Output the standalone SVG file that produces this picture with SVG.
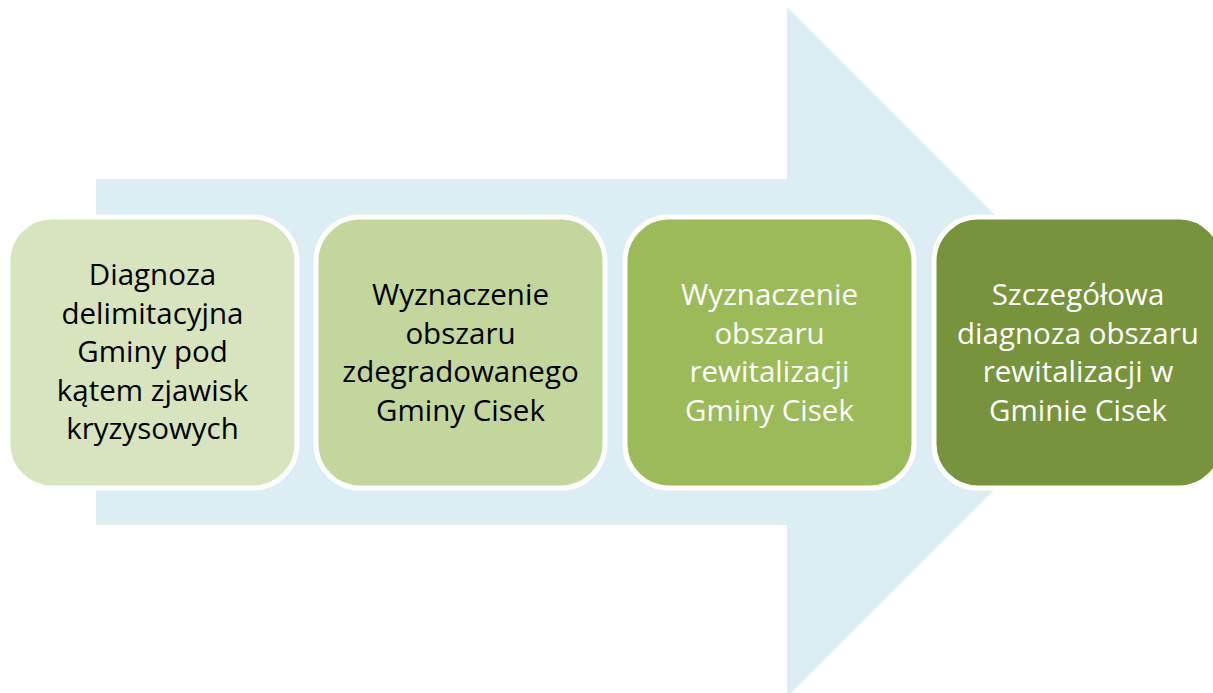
<svg xmlns="http://www.w3.org/2000/svg" width="1213" height="693" viewBox="0 0 1213 693">
<style>
.box{stroke:#ffffff;stroke-width:5}
.t{font-family:"Open Sans","Noto Sans","Liberation Sans",sans-serif;font-size:29.5px;text-anchor:middle}
.dark{fill:#000000}
.light{fill:#ffffff}
</style>
<rect width="1213" height="693" fill="#ffffff"/>
<g id="arrow">
<polygon points="96,179 787,179 787,7 1132,352 787,697 787,525 96,525" fill="#DBEEF4"/>
</g>
<g id="node1">
<rect class="box" x="8" y="217" width="289" height="271" rx="44" fill="#D7E4BD"/>
<text class="t dark" x="152.5" y="285">Diagnoza</text>
<text class="t dark" x="152.5" y="323.5">delimitacyjna</text>
<text class="t dark" x="152.5" y="362">Gminy pod</text>
<text class="t dark" x="152.5" y="400.5">kątem zjawisk</text>
<text class="t dark" x="152.5" y="439">kryzysowych</text>
</g>
<g id="node2">
<rect class="box" x="316" y="217" width="289" height="271" rx="44" fill="#C3D69B"/>
<text class="t dark" x="460.5" y="305">Wyznaczenie</text>
<text class="t dark" x="460.5" y="343.5">obszaru</text>
<text class="t dark" x="460.5" y="382">zdegradowanego</text>
<text class="t dark" x="460.5" y="420.5">Gminy Cisek</text>
</g>
<g id="node3">
<rect class="box" x="625" y="217" width="289" height="271" rx="44" fill="#9BBB59"/>
<text class="t light" x="769.5" y="305">Wyznaczenie</text>
<text class="t light" x="769.5" y="343.5">obszaru</text>
<text class="t light" x="769.5" y="382">rewitalizacji</text>
<text class="t light" x="769.5" y="420.5">Gminy Cisek</text>
</g>
<g id="node4">
<rect class="box" x="934" y="217" width="289" height="271" rx="44" fill="#77933C"/>
<text class="t light" x="1078" y="305">Szczegółowa</text>
<text class="t light" x="1078" y="343.5">diagnoza obszaru</text>
<text class="t light" x="1078" y="382">rewitalizacji w</text>
<text class="t light" x="1078" y="420.5">Gminie Cisek</text>
</g>
</svg>
